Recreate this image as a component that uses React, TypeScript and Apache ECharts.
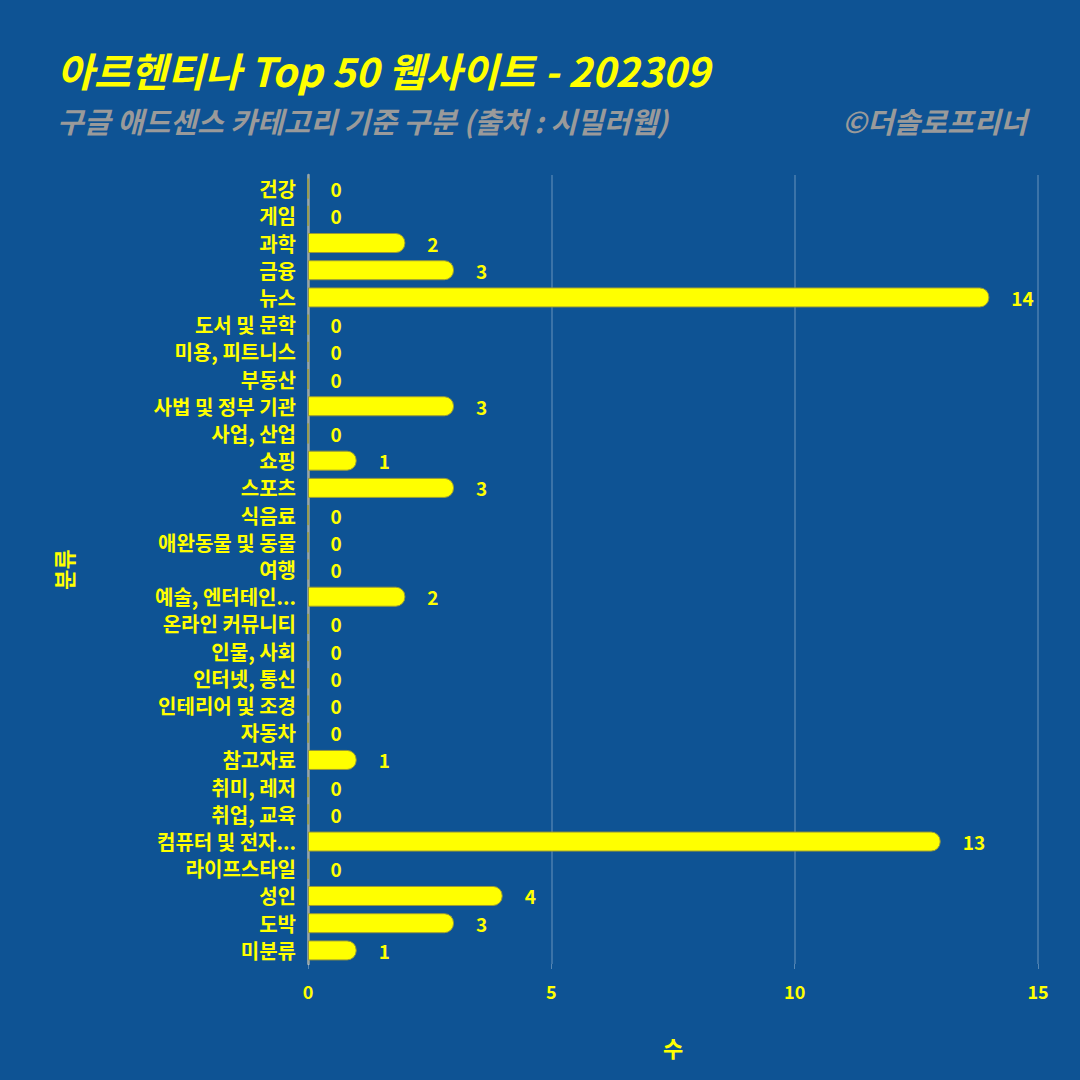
import React, { useEffect, useRef } from "react";
import * as echarts from "echarts";

const categories = [
  "건강", "게임", "과학", "금융", "뉴스", "도서 및 문학", "미용, 피트니스", "부동산",
  "사법 및 정부 기관", "사업, 산업", "쇼핑", "스포츠", "식음료", "애완동물 및 동물", "여행",
  "예술, 엔터테인...", "온라인 커뮤니티", "인물, 사회", "인터넷, 통신", "인테리어 및 조경",
  "자동차", "참고자료", "취미, 레저", "취업, 교육", "컴퓨터 및 전자...", "라이프스타일",
  "성인", "도박", "미분류",
];
const counts = [0, 0, 2, 3, 14, 0, 0, 0, 3, 0, 1, 3, 0, 0, 0, 2, 0, 0, 0, 0, 0, 1, 0, 0, 13, 0, 4, 3, 1];

const titleText = "아르헨티나 Top 50 웹사이트 - 202309";
const subtitleText = "구글 애드센스 카테고리 기준 구분 (출처 : 시밀러웹)";
const creditText = "©더솔로프리너";
const yName = "분류";
const xName = "수";

const FONT = "'Noto Sans CJK KR', 'Noto Sans', sans-serif";
const YELLOW = "#ffff00";
const BG = "#0e5394";

export default function App() {
  const ref = useRef<HTMLDivElement>(null);
  useEffect(() => {
    const chart = echarts.init(ref.current!, null, { renderer: "svg" });
    chart.setOption({
      animation: false,
      backgroundColor: BG,
      textStyle: { fontFamily: FONT },
      title: [
        {
          text: titleText,
          left: 52,
          top: 45,
          textStyle: { color: YELLOW, fontSize: 40, fontWeight: "bold", fontStyle: "italic", fontFamily: FONT },
        },
        {
          text: subtitleText,
          left: 52,
          top: 100,
          textStyle: { color: "#9a9a9a", fontSize: 29, fontWeight: "bold", fontStyle: "italic", fontFamily: FONT },
        },
        {
          text: creditText,
          right: 48,
          top: 100,
          textStyle: { color: "#9a9a9a", fontSize: 29, fontWeight: "bold", fontStyle: "italic", fontFamily: FONT },
        },
      ],
      grid: { left: 308, right: 42, top: 175, bottom: 116, containLabel: false },
      xAxis: {
        type: "value",
        min: 0,
        max: 15,
        interval: 5,
        name: xName,
        nameLocation: "middle",
        nameGap: 72,
        nameTextStyle: { color: YELLOW, fontSize: 22, fontWeight: "bold" },
        axisLine: { show: false },
        axisTick: { show: true, length: 5, lineStyle: { color: "rgba(255,255,255,0.3)" } },
        axisLabel: { color: YELLOW, fontSize: 18, fontWeight: "bold", margin: 18 },
        splitLine: { show: true, lineStyle: { color: "rgba(255,255,255,0.25)", width: 1.5 } },
      },
      yAxis: {
        type: "category",
        data: categories,
        inverse: true,
        name: yName,
        nameLocation: "middle",
        nameGap: 234,
        nameRotate: 90,
        nameTextStyle: { color: YELLOW, fontSize: 22, fontWeight: "bold" },
        axisLine: { show: true, lineStyle: { color: "#9aa6a4", width: 2.5 } },
        axisTick: { show: false },
        axisLabel: { color: YELLOW, fontSize: 20, lineHeight: 22, fontWeight: "bold", margin: 12, interval: 0 },
        splitLine: { show: false },
      },
      series: [
        {
          type: "bar",
          data: counts,
          barWidth: 20,
          itemStyle: {
            color: YELLOW,
            borderColor: "#9a9a38",
            borderWidth: 1,
            borderRadius: [0, 9, 9, 0],
          },
          label: {
            show: true,
            position: "right",
            distance: 22,
            color: YELLOW,
            fontSize: 19,
            fontWeight: "bold",
          },
        },
      ],
    });
    return () => chart.dispose();
  }, []);
  return <div ref={ref} style={{ width: 1080, height: 1080, position: "absolute", left: 0, top: 0 }} />;
}
